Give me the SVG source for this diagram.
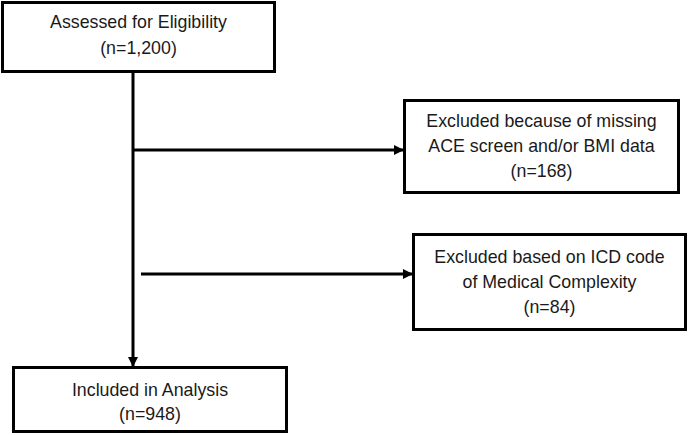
<svg xmlns="http://www.w3.org/2000/svg" width="688" height="435" viewBox="0 0 688 435">
<style>
.box{fill:#fff;stroke:#000;stroke-width:3}
.t{font-family:"Liberation Sans",Arial,sans-serif;font-size:17.8px;fill:#1a1a1a;text-anchor:middle}
.c{stroke:#000;stroke-width:3;fill:none}
</style>
<defs>
<marker id="ah" markerWidth="10" markerHeight="10" refX="9" refY="5" orient="auto" markerUnits="userSpaceOnUse">
<path d="M0,0 L10,5 L0,10 z" fill="#000"/>
</marker>
</defs>
<rect width="688" height="435" fill="#fff"/>
<g id="connectors">
<path class="c" d="M133,72 V366" marker-end="url(#ah)"/>
<path class="c" d="M133,150 H403" marker-end="url(#ah)"/>
<path class="c" d="M141,274 H412" marker-end="url(#ah)"/>
</g>
<g id="assessed">
<rect class="box" x="2.5" y="2.5" width="272" height="69"/>
<text class="t" x="138.5" y="28">Assessed for Eligibility</text>
<text class="t" x="138.5" y="54">(n=1,200)</text>
</g>
<g id="excluded-missing">
<rect class="box" x="404.5" y="100.5" width="274" height="92"/>
<text class="t" x="541.5" y="127">Excluded because of missing</text>
<text class="t" x="541.5" y="152">ACE screen and/or BMI data</text>
<text class="t" x="541.5" y="177">(n=168)</text>
</g>
<g id="excluded-icd">
<rect class="box" x="413.5" y="234.5" width="272" height="95"/>
<text class="t" x="549.5" y="263">Excluded based on ICD code</text>
<text class="t" x="549.5" y="288">of Medical Complexity</text>
<text class="t" x="549.5" y="313">(n=84)</text>
</g>
<g id="included">
<rect class="box" x="13.5" y="367.5" width="273" height="64"/>
<text class="t" x="150" y="396">Included in Analysis</text>
<text class="t" x="150" y="420">(n=948)</text>
</g>
</svg>
